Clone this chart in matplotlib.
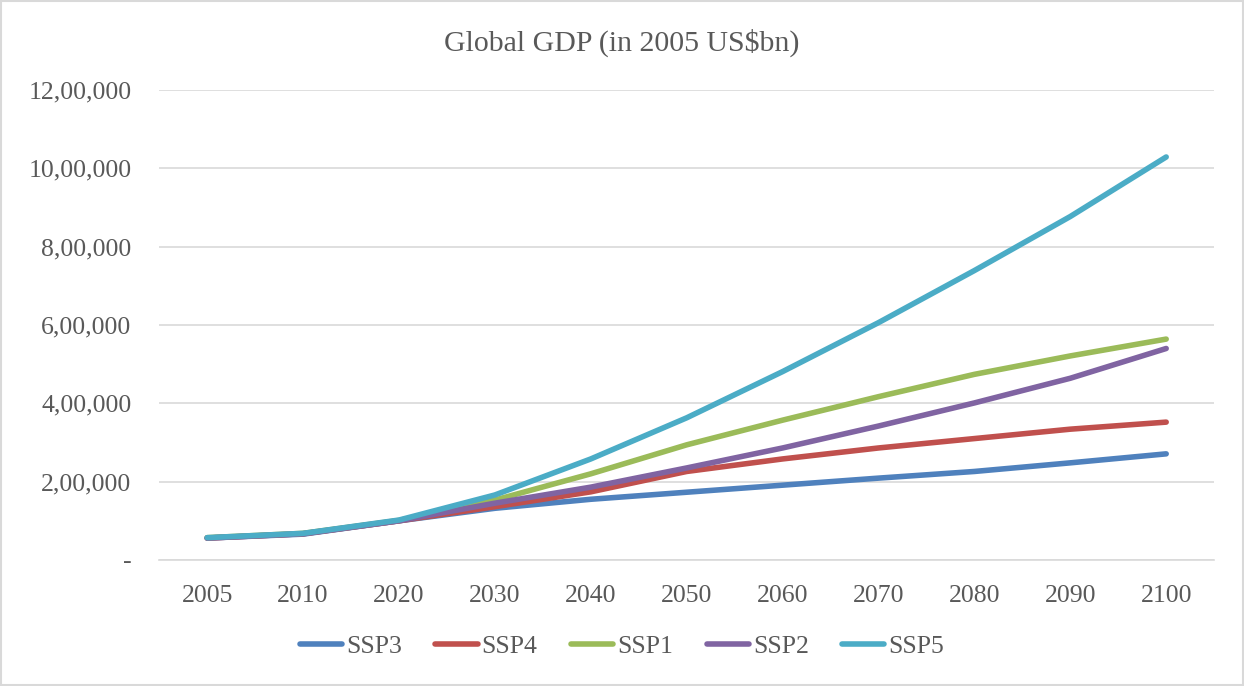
import matplotlib
matplotlib.use("Agg")
import matplotlib.pyplot as plt
from matplotlib.ticker import FuncFormatter, FixedLocator

years = ["2005", "2010", "2020", "2030", "2040", "2050", "2060", "2070", "2080", "2090", "2100"]
ssp3 = [56000, 66000, 100000, 132000, 155000, 173000, 191000, 209000, 226000, 248000, 271000]
ssp4 = [56000, 67000, 100000, 136000, 174000, 226000, 258000, 286000, 310000, 334000, 352000]
ssp1 = [57000, 68000, 101000, 153000, 220000, 294000, 357000, 417000, 474000, 521000, 564000]
ssp2 = [56000, 67000, 100000, 145000, 186000, 235000, 286000, 342000, 401000, 464000, 540000]
ssp5 = [57000, 68000, 102000, 166000, 258000, 363000, 481000, 606000, 739000, 877000, 1029000]
series_names = ["SSP3", "SSP4", "SSP1", "SSP2", "SSP5"]
series_vals = [ssp3, ssp4, ssp1, ssp2, ssp5]
colors = ["#4F81BD", "#C0504D", "#9BBB59", "#8064A2", "#4BACC6"]
y_ticks = [0, 200000, 400000, 600000, 800000, 1000000, 1200000]

font = ["Liberation Serif", "DejaVu Serif"]
plt.rcParams["font.family"] = font
txt = "#595959"

fig = plt.figure(figsize=(12.44, 6.86), dpi=100)
ax = fig.add_axes([0.128, 0.1837, 0.848, 0.6851])

x = list(range(len(years)))
for name, vals, c in zip(series_names, series_vals, colors):
    ax.plot(x, vals, color=c, lw=4.0, solid_capstyle="round", solid_joinstyle="round", label=name)

def indian(v, pos=None):
    v = int(round(v))
    if v == 0:
        return "-"
    s = str(v)
    last3 = s[-3:]
    rest = s[:-3]
    parts = []
    while len(rest) > 2:
        parts.insert(0, rest[-2:])
        rest = rest[:-2]
    if rest:
        parts.insert(0, rest)
    return ",".join(parts + [last3])

ax.set_ylim(0, 1200000)
ax.set_xlim(-0.5, len(years) - 0.5)
ax.yaxis.set_major_locator(FixedLocator(y_ticks))
ax.yaxis.set_major_formatter(FuncFormatter(indian))
ax.set_xticks(x)
ax.set_xticklabels(years)
ax.grid(axis="y", color="#D9D9D9", lw=1.2)
ax.set_axisbelow(True)
for s in ["top", "right", "left"]:
    ax.spines[s].set_visible(False)
ax.spines["bottom"].set_color("#D9D9D9")
ax.spines["bottom"].set_linewidth(1.2)
ax.tick_params(axis="both", length=0, colors=txt, labelsize=18.5)
ax.tick_params(axis="y", pad=20)
ax.tick_params(axis="x", pad=18)

fig.text(0.5, 0.937, "Global GDP (in 2005 US$bn)", ha="center", va="center", fontsize=21.5, color=txt)

leg = fig.legend(loc="center", bbox_to_anchor=(0.5, 0.057), ncol=5, frameon=False,
                 fontsize=18.5, handlelength=1.65, columnspacing=1.3, handletextpad=0.15,
                 labelcolor=txt)

border = plt.Rectangle((0.001, 0.001), 0.998, 0.998, transform=fig.transFigure,
                       fill=False, edgecolor="#D9D9D9", lw=1.5)
fig.patches.append(border)

fig.savefig("out.png", dpi=100)
